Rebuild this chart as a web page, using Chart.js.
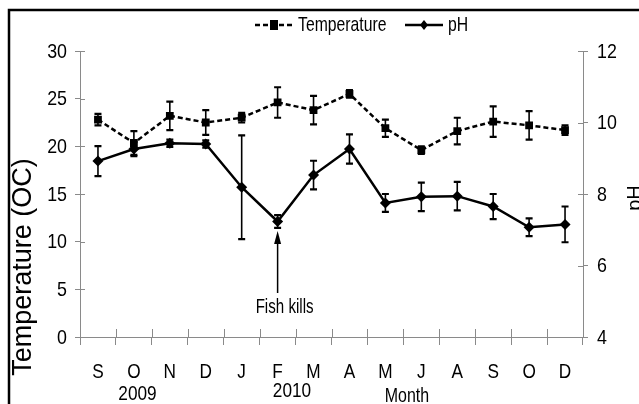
<!DOCTYPE html>
<html>
<head>
<meta charset="utf-8">
<script src="https://cdn.jsdelivr.net/npm/chart.js@4.4.1/dist/chart.umd.min.js"></script>
<style>
  html, body { margin: 0; padding: 0; background: #fff; }
  #wrap { width: 639px; height: 404px; position: relative; }
</style>
</head>
<body>
<div id="wrap"><canvas id="chart"></canvas></div>
<script>
const months = ['S', 'O', 'N', 'D', 'J', 'F', 'M', 'A', 'M', 'J', 'A', 'S', 'O', 'D'];
const tempMean = [22.8, 20.35, 23.2, 22.5, 23.0, 24.6, 23.8, 25.5, 21.9, 19.6, 21.6, 22.6, 22.2, 21.7];
const tempErr = [0.6, 1.25, 1.5, 1.3, 0.5, 1.6, 1.5, 0.4, 0.9, 0.4, 1.4, 1.6, 1.5, 0.5];
const phMean = [8.92, 9.26, 9.42, 9.40, 8.19, 7.23, 8.53, 9.26, 7.75, 7.92, 7.94, 7.65, 7.07, 7.15];
const phErr = [0.42, 0.2, 0.1, 0.1, 1.45, 0.18, 0.4, 0.41, 0.25, 0.4, 0.4, 0.35, 0.25, 0.5];
const yearLabels = [{ text: '2009', at: 1.1, base: 400 }, { text: '2010', at: 5.4, base: 397 }];
const monthTitle = { text: 'Month', at: 8.6, base: 402 };
const fishKill = { text: 'Fish kills', at: 5 };

// Arial Narrow is not installed, so narrow text is Liberation Sans squeezed sideways
const REGULAR = "'Liberation Sans', Arial, sans-serif";
const NARROW_FONT = '21px ' + REGULAR;
const AXIS_GRAY = '#8a8a8a';

function narrowText(ctx, text, x, y, align, squeeze = 0.76) {
    ctx.save();
    ctx.translate(x, y);
    ctx.scale(squeeze, 1);
    ctx.font = NARROW_FONT;
    ctx.textAlign = align;
    ctx.fillText(text, 0, 0);
    ctx.restore();
}

// error bars, inner tick halves, labels, legend, titles and the frame
const extras = {
    id: 'extras',
    afterDatasetsDraw(chart) {
        const ctx = chart.ctx;
        ctx.save();
        ctx.strokeStyle = '#000';
        chart.data.datasets.forEach((ds, di) => {
            const meta = chart.getDatasetMeta(di);
            const scale = chart.scales[ds.yAxisID];
            ds.errors.forEach((e, i) => {
                const x = meta.data[i].x;
                const y1 = scale.getPixelForValue(ds.data[i] + e);
                const y2 = scale.getPixelForValue(ds.data[i] - e);
                ctx.lineWidth = 1.6;
                ctx.beginPath();
                ctx.moveTo(x, y1); ctx.lineTo(x, y2);
                ctx.stroke();
                ctx.lineWidth = 2.2;
                ctx.beginPath();
                ctx.moveTo(x - 3.5, y1); ctx.lineTo(x + 3.5, y1);
                ctx.moveTo(x - 3.5, y2); ctx.lineTo(x + 3.5, y2);
                ctx.stroke();
            });
        });
        ctx.restore();
    },
    afterDraw(chart) {
        const ctx = chart.ctx;
        const xs = chart.scales.x, y = chart.scales.y, y2 = chart.scales.y2;
        ctx.save();

        // tick marks crossing the axes
        ctx.strokeStyle = AXIS_GRAY;
        ctx.lineWidth = 1;
        ctx.beginPath();
        const n = months.length;
        for (let i = 0; i <= n; i++) {
            const px = Math.round(xs.left + i * (xs.right - xs.left) / n) + 0.5;
            ctx.moveTo(px, xs.top); ctx.lineTo(px, xs.top - 8);
        }
        y.ticks.forEach((t, i) => {
            const py = Math.round(y.getPixelForTick(i)) + 0.5;
            ctx.moveTo(y.right, py); ctx.lineTo(y.right + 5, py);
        });
        y2.ticks.forEach((t, i) => {
            const py = Math.round(y2.getPixelForTick(i)) + 0.5;
            ctx.moveTo(y2.left, py); ctx.lineTo(y2.left - 5, py);
        });
        ctx.stroke();

        // tick labels
        ctx.fillStyle = '#000';
        ctx.textBaseline = 'middle';
        y.ticks.forEach((t, i) => narrowText(ctx, String(t.value), y.right - 13, y.getPixelForTick(i) + 1, 'right', 0.85));
        y2.ticks.forEach((t, i) => narrowText(ctx, String(t.value), y2.left + 14, y2.getPixelForTick(i) + 1, 'left', 0.85));
        ctx.textBaseline = 'alphabetic';
        months.forEach((m, i) => narrowText(ctx, m, xs.getPixelForValue(i), 378, 'center', 0.82));

        // year labels and x title
        yearLabels.forEach(l => narrowText(ctx, l.text, xs.getPixelForValue(l.at), l.base, 'center', 0.82));
        narrowText(ctx, monthTitle.text, xs.getPixelForValue(monthTitle.at), monthTitle.base, 'center');

        // legend
        ctx.strokeStyle = '#000';
        const ly = 25;
        const entries = [{ x: 255, ds: chart.data.datasets[0] }, { x: 405, ds: chart.data.datasets[1] }];
        entries.forEach(en => {
            ctx.lineWidth = 2.5;
            ctx.setLineDash(en.ds.borderDash || []);
            ctx.beginPath();
            ctx.moveTo(en.x, ly); ctx.lineTo(en.x + 38, ly);
            ctx.stroke();
            ctx.setLineDash([]);
            const cx = en.x + 19;
            ctx.beginPath();
            if (en.ds.pointStyle === 'rect') {
                ctx.rect(cx - 4, ly - 5, 8, 10);
            } else {
                ctx.moveTo(cx, ly - 5); ctx.lineTo(cx + 4, ly); ctx.lineTo(cx, ly + 5); ctx.lineTo(cx - 4, ly);
                ctx.closePath();
            }
            ctx.fill();
            narrowText(ctx, en.ds.label, en.x + 43, 31, 'left', 0.75);
        });

        // fish kills annotation
        const fx = xs.getPixelForValue(fishKill.at);
        ctx.lineWidth = 1.5;
        ctx.beginPath();
        ctx.moveTo(fx, 293); ctx.lineTo(fx, 240);
        ctx.stroke();
        ctx.beginPath();
        ctx.moveTo(fx, 231); ctx.lineTo(fx + 3.5, 244); ctx.lineTo(fx - 3.5, 244);
        ctx.closePath();
        ctx.fill();
        narrowText(ctx, fishKill.text, fx + 7, 313, 'center', 0.72);

        // rotated axis titles
        ctx.textAlign = 'center';
        ctx.save();
        ctx.translate(31, 267);
        ctx.rotate(-Math.PI / 2);
        ctx.font = '27px ' + REGULAR;
        ctx.fillText('Temperature (OC)', 0, 0);
        ctx.restore();
        ctx.save();
        ctx.translate(641, 198);
        ctx.rotate(-Math.PI / 2);
        ctx.font = '20px ' + REGULAR;
        ctx.fillText('pH', 0, 0);
        ctx.restore();

        // frame
        ctx.lineWidth = 2.5;
        ctx.beginPath();
        ctx.moveTo(9, 404); ctx.lineTo(9, 10); ctx.lineTo(639, 10);
        ctx.stroke();
        ctx.restore();
    }
};

new Chart(document.getElementById('chart'), {
    type: 'line',
    data: {
        labels: months,
        datasets: [
            {
                label: 'Temperature',
                data: tempMean,
                errors: tempErr,
                yAxisID: 'y',
                borderColor: '#000',
                backgroundColor: '#000',
                borderWidth: 2.5,
                borderDash: [5, 3],
                pointStyle: 'rect',
                pointRadius: 5.5,
                pointBorderWidth: 0,
                tension: 0
            },
            {
                label: 'pH',
                data: phMean,
                errors: phErr,
                yAxisID: 'y2',
                borderColor: '#000',
                backgroundColor: '#000',
                borderWidth: 2.5,
                pointStyle: 'rectRot',
                pointRadius: 5.5,
                pointBorderWidth: 0,
                tension: 0
            }
        ]
    },
    options: {
        responsive: true,
        maintainAspectRatio: false,
        animation: false,
        layout: { padding: { top: 51, left: 0, right: 0, bottom: 0 } },
        plugins: {
            legend: { display: false },
            tooltip: { enabled: false }
        },
        scales: {
            x: {
                offset: true,
                grid: { drawOnChartArea: false, color: AXIS_GRAY, tickLength: 8, offset: true },
                border: { color: AXIS_GRAY, width: 1 },
                ticks: { display: false, autoSkip: false },
                afterFit: s => { s.height = 67; }
            },
            y: {
                position: 'left',
                min: 0,
                max: 30,
                ticks: { stepSize: 5, display: false },
                grid: { drawOnChartArea: false, color: AXIS_GRAY, tickLength: 5 },
                border: { color: AXIS_GRAY, width: 1 },
                afterFit: s => { s.width = 80; }
            },
            y2: {
                position: 'right',
                min: 4,
                max: 12,
                ticks: { stepSize: 2, display: false },
                grid: { drawOnChartArea: false, color: AXIS_GRAY, tickLength: 5 },
                border: { color: AXIS_GRAY, width: 1 },
                afterFit: s => { s.width = 56; }
            }
        }
    },
    plugins: [extras]
});
</script>
</body>
</html>
